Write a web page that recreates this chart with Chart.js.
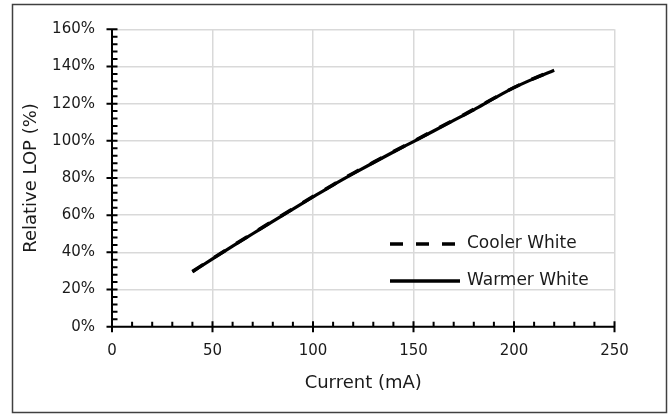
<!DOCTYPE html>
<html><head><meta charset="utf-8">
<script src="https://cdn.jsdelivr.net/npm/chart.js@4"></script>
<style>html,body{margin:0;padding:0;background:#fff}#wrap{width:669px;height:415px;position:relative}</style>
</head><body><div id="wrap"><canvas id="c" width="669" height="415"></canvas></div>
<script>
const currentMA   = [40, 50, 60, 70, 80, 90, 100, 110, 120, 130, 140, 150, 160, 170, 180, 190, 200, 210, 220];
const coolerWhite = [29.7, 36.7, 43.5, 50.2, 56.9, 63.5, 70.0, 76.4, 82.6, 88.4, 94.2, 99.8, 105.5, 111.2, 116.9, 122.9, 128.7, 133.6, 138.1];
const warmerWhite = [29.5, 36.5, 43.3, 50.0, 56.7, 63.3, 69.8, 76.2, 82.3, 88.2, 94.0, 99.6, 105.3, 111.0, 116.7, 122.8, 128.6, 133.5, 138.0];
const seriesNames = ['Cooler White', 'Warmer White'];
const xTickValues = [0, 50, 100, 150, 200, 250];
const yTickValues = [0, 20, 40, 60, 80, 100, 120, 140, 160];
const xTitle = 'Current (mA)';
const yTitle = 'Relative LOP (%)';

const FONT = "'DejaVu Sans', sans-serif";
const TXT = '#1a1a1a';

const customDraw = {
  id: 'customDraw',
  beforeDraw(chart) {
    const ctx = chart.ctx;
    ctx.save();
    ctx.fillStyle = '#fff';
    ctx.fillRect(0, 0, chart.width, chart.height);
    ctx.strokeStyle = '#404040';
    ctx.lineWidth = 1.5;
    ctx.strokeRect(12.5, 4.5, 654, 408);
    ctx.restore();
  },
  beforeDatasetsDraw(chart) {
    const ctx = chart.ctx;
    const xs = chart.scales.x, ys = chart.scales.y;
    const x0 = xs.getPixelForValue(0), y0 = ys.getPixelForValue(0);
    ctx.save();
    ctx.strokeStyle = '#000';
    ctx.lineWidth = 2;
    ctx.beginPath();
    ctx.moveTo(x0, ys.getPixelForValue(160)); ctx.lineTo(x0, y0);
    ctx.moveTo(x0, y0); ctx.lineTo(xs.getPixelForValue(250), y0);
    for (let v = 0; v <= 250; v += 10) {
      const px = xs.getPixelForValue(v);
      if (v % 50 === 0) { ctx.moveTo(px, y0 - 5.5); ctx.lineTo(px, y0 + 5.5); }
      else { ctx.moveTo(px, y0); ctx.lineTo(px, y0 - 5); }
    }
    for (let v = 0; v <= 160; v += 4) {
      const py = ys.getPixelForValue(v);
      if (v % 20 === 0) { ctx.moveTo(x0 - 5.5, py); ctx.lineTo(x0 + 5.5, py); }
      else { ctx.moveTo(x0, py); ctx.lineTo(x0 + 5.5, py); }
    }
    ctx.stroke();
    ctx.restore();
  },
  afterDatasetsDraw(chart) {
    const ctx = chart.ctx;
    const a = chart.chartArea;
    ctx.save();
    chart.data.datasets.forEach((ds, i) => {
      const y = a.top + 214.7 + i * 37;
      ctx.strokeStyle = ds.borderColor;
      ctx.lineWidth = 3.5;
      ctx.setLineDash(ds.borderDash || []);
      ctx.beginPath();
      ctx.moveTo(a.left + 278, y);
      ctx.lineTo(a.left + 348, y);
      ctx.stroke();
      ctx.setLineDash([]);
      ctx.fillStyle = TXT;
      ctx.font = '17px ' + FONT;
      ctx.textBaseline = 'middle';
      ctx.textAlign = 'left';
      ctx.fillText(ds.label, a.left + 355, y);
    });
    ctx.restore();
  }
};

new Chart(document.getElementById('c'), {
  type: 'line',
  data: {
    datasets: [
      { label: seriesNames[0], data: currentMA.map((x, i) => ({ x, y: coolerWhite[i] })),
        borderColor: '#000', borderWidth: 3.5, borderDash: [13, 13], pointRadius: 0, fill: false, cubicInterpolationMode: 'monotone' },
      { label: seriesNames[1], data: currentMA.map((x, i) => ({ x, y: warmerWhite[i] })),
        borderColor: '#000', borderWidth: 3.2, pointRadius: 0, fill: false, cubicInterpolationMode: 'monotone' }
    ]
  },
  options: {
    responsive: false,
    animation: false,
    devicePixelRatio: 1,
    layout: { padding: { top: 29.3, right: 54.5, bottom: 0, left: 0 } },
    plugins: { legend: { display: false }, tooltip: { enabled: false } },
    scales: {
      x: {
        type: 'linear', min: 0, max: 250,
        afterBuildTicks(s) { s.ticks = xTickValues.map(v => ({ value: v })); },
        afterFit(s) { s.height = 88.3; },
        grid: { color: '#d9d9d9', lineWidth: 1.5, drawTicks: false },
        border: { display: false },
        ticks: { padding: 15, color: TXT, font: { family: FONT, size: 15 }, maxRotation: 0 },
        title: { display: true, text: xTitle, color: TXT, font: { family: FONT, size: 18 }, padding: { top: 0, bottom: 21 } }
      },
      y: {
        type: 'linear', min: 0, max: 160,
        afterBuildTicks(s) { s.ticks = yTickValues.map(v => ({ value: v })); },
        afterFit(s) { s.width = 112; },
        grid: { color: '#d9d9d9', lineWidth: 1.5, drawTicks: false },
        border: { display: false },
        ticks: { padding: 17, color: TXT, font: { family: FONT, size: 15 }, callback: v => v + '%' },
        title: { display: true, text: yTitle, color: TXT, font: { family: FONT, size: 18 }, padding: { top: 21, bottom: 0 } }
      }
    }
  },
  plugins: [customDraw]
});
</script></body></html>
